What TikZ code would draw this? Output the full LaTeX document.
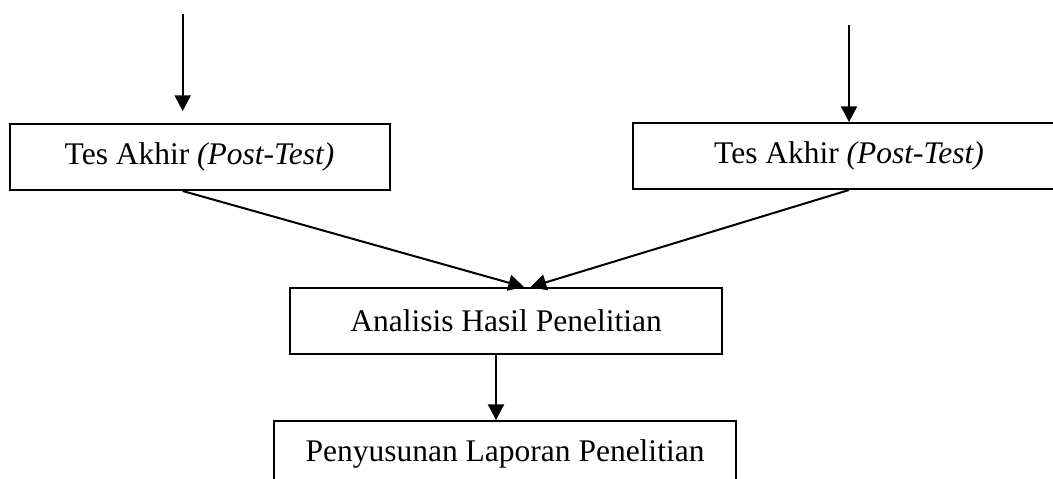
\documentclass[tikz,border=0pt]{standalone}
\usepackage{fontspec}
\setmainfont{Liberation Serif}
\usetikzlibrary{arrows.meta, positioning}
\tikzset{proses/.style={draw, line width=1pt, minimum height=33pt, inner sep=0pt, font=\fontsize{15.75}{19}\selectfont}}

\begin{document}
\begin{tikzpicture}[>={Triangle[length=7.8pt, width=8pt]}, line width=1pt, x=0.5pt, y=0.5pt]
\useasboundingbox (0,0) rectangle (1053,478);
\node[proses, minimum width=190pt] (tesA) at (199.5,321) {Tes Akhir \textit{(Post-Test)}};
\node[proses, minimum width=216.5pt] (tesB) at (849,322) {Tes Akhir \textit{(Post-Test)}};
\node[proses, minimum width=216.3pt] (analisis) at (506,157) {Analisis Hasil Penelitian};
\node[proses, minimum width=231pt, below=32.5pt of analisis, xshift=-0.5pt] (laporan) {Penyusunan Laporan Penelitian};
\coordinate (awalA) at (182.7,464);
\coordinate (awalB) at (849,453);
\draw [->] (awalA) -- ([yshift=6pt]awalA |- tesA.north);
\draw [->] (awalB) -- (tesB.north);
\draw [->] ([xshift=-8.4pt]tesA.south) -- ([xshift=9pt]analisis.north);
\draw [->] (tesB.south) -- ([xshift=12.3pt]analisis.north);
\draw [->] ([xshift=-5pt]analisis.south) -- ([xshift=-5pt]analisis.south |- laporan.north);
\end{tikzpicture}
\end{document}
